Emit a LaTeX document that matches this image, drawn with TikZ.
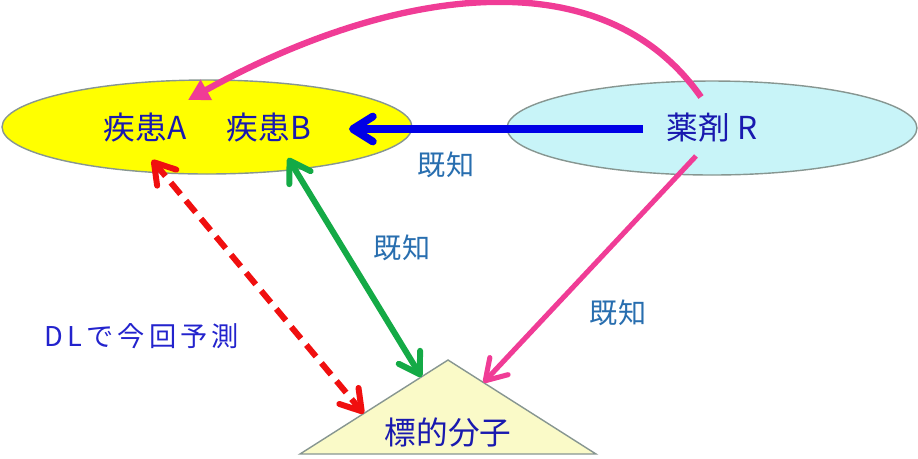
\documentclass[tikz,border=0pt]{standalone}
\usepackage{fontspec}
\setmainfont{Noto Sans CJK JP}
\usetikzlibrary{arrows.meta,positioning,shapes.geometric,calc}
\definecolor{sunyellow}{RGB}{255,255,0}
\definecolor{paleaqua}{RGB}{200,244,248}
\definecolor{palecream}{RGB}{250,250,200}
\definecolor{rimgray}{RGB}{135,150,145}
\definecolor{inkblue}{RGB}{25,25,175}
\definecolor{noteblue}{RGB}{40,110,175}
\definecolor{dlblue}{RGB}{35,35,205}
\definecolor{hotpink}{RGB}{240,60,150}
\definecolor{pureblue}{RGB}{0,0,230}
\definecolor{leafgreen}{RGB}{20,170,70}
\definecolor{alertred}{RGB}{240,15,15}
\tikzset{
  >={Straight Barb[length=0.4cm,width=0.5cm,line cap=round,line join=round]},
  blob/.style={ellipse,draw=rimgray,line width=0.8pt,minimum width=8.2cm,minimum height=1.88cm,inner sep=0pt},
  disease/.style={blob,fill=sunyellow},
  drug/.style={blob,fill=paleaqua,text=inkblue,font=\fontsize{18}{21}\selectfont},
  wedge/.style={draw=rimgray,line width=0.8pt,fill=palecream,line join=miter},
  term/.style={text=inkblue,font=\fontsize{18}{21}\selectfont,inner sep=0pt},
  note/.style={text=noteblue,font=\fontsize{16}{19}\selectfont,inner sep=0pt},
  guess/.style={text=dlblue,font=\fontsize{15.5}{18}\selectfont\addfontfeatures{LetterSpace=15},inner sep=0pt},
  bluearr/.style={->,draw=pureblue,line width=4.4pt},
  pinkarr/.style={-{Triangle[length=0.42cm,width=0.44cm]},draw=hotpink,line width=3.6pt},
  thinpink/.style={->,draw=hotpink,line width=2.9pt},
  greenarr/.style={<->,draw=leafgreen,line width=3.4pt},
  predarr/.style={<->,draw=alertred,line width=3.4pt,dash pattern=on 0.3cm off 0.17cm}
}
\begin{document}
\begin{tikzpicture}[x=0.02cm,y=-0.02cm]
  \useasboundingbox (0,0) rectangle (918,458);
  \node[disease] (disease) at (207,127) {};
  \node[drug] (drug) at (712,128) {薬剤 R};
  \node[term] (disA) at (145,128) {疾患A};
  \node[term] (disB) at (269,128) {疾患B};

  \coordinate (tL) at (300,454);
  \coordinate (tA) at (448,360);
  \coordinate (tR) at (596,454);
  \draw[wedge] (tL) -- (tA) -- (tR) -- cycle;
  \node[term] (target) at (448,432) {標的分子};

  \draw[bluearr] ([xshift=-1.38cm,yshift=-0.02cm]drug.center) -- ([xshift=1.6cm,yshift=-0.02cm]disB.center);
  \draw[pinkarr] ([xshift=-0.22cm,yshift=0.62cm]drug.center)
    .. controls (597,-51) and (377,-5) .. ([xshift=0.86cm,yshift=0.56cm]disA.center);
  \draw[thinpink] ([xshift=-0.32cm,yshift=-0.56cm]drug.center) -- ($(tA)!0.24!(tR)$);
  \draw[greenarr] ([xshift=0.38cm,yshift=-0.6cm]disB.center) -- ($(tL)!0.82!(tA)$);
  \draw[predarr] ([xshift=0.14cm,yshift=-0.64cm]disA.center) -- ($(tL)!0.43!(tA)$);

  \node[note] (knownB) at (446,165) {既知};
  \node[note] (knownG) at (402,248) {既知};
  \node[note] (knownP) at (618,313) {既知};
  \node[guess] (dl) at (142,336) {DLで今回予測};
\end{tikzpicture}
\end{document}
